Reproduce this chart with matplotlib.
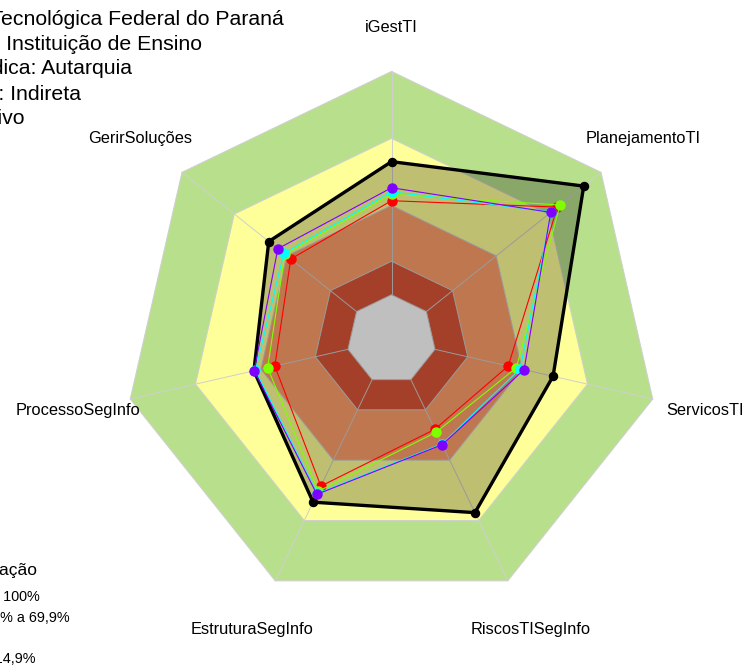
import matplotlib
matplotlib.use('Agg')
import matplotlib.pyplot as plt
import numpy as np

plt.rcParams['font.family'] = ['Liberation Sans', 'DejaVu Sans']

# ---------------- data ----------------
categories = ["iGestTI", "PlanejamentoTI", "ServicosTI", "RiscosTISegInfo",
              "EstruturaSegInfo", "ProcessoSegInfo", "GerirSoluções"]

reference = [59.6, 90.1, 54.2, 66.1, 60.9, 43.2, 50.3]
serie_vermelha = [42.1, 75.0, 33.6, 24.7, 52.9, 33.6, 37.7]
serie_verde = [45.0, 76.5, 37.3, 26.1, 55.5, 36.9, 41.1]
serie_ciano = [46.1, 71.5, 39.1, 32.0, 56.5, 42.5, 41.7]
serie_roxa = [47.9, 71.2, 40.9, 32.3, 57.0, 43.1, 45.1]

band_limits = [0, 15, 40, 70, 100]
scale_min, scale_max = -20, 100

title_lines = ["Universidade Tecnológica Federal do Paraná",
               "Tipo: Instituição de Ensino",
               "Natureza Jurídica: Autarquia",
               "Administração: Indireta",
               "Poder: Executivo"]
legend_title = "Classificação"
legend_lines = ["Aprimorado: 70% a 100%",
                "Intermediário: 40% a 69,9%",
                "Inexpressivo: 0% a 14,9%"]

# ---------------- styles ----------------
band_colors = ['#DC5538', '#FFA06B', '#FFFF99', '#B8E08C']  # 0-15,15-40,40-70,70-100
series = [(serie_vermelha, '#FF0000'), (serie_verde, '#80FF00'),
          (serie_ciano, '#00FFFF'), (serie_roxa, '#8000FF')]

W, H = 744, 668
cx, cy, R = 391.5, 339.4, 268.0

fig = plt.figure(figsize=(W / 100, H / 100), dpi=100)
ax = fig.add_axes([0, 0, 1, 1])
ax.set_xlim(-cx / R, (W - cx) / R)
ax.set_ylim(-(H - cy) / R, cy / R)
ax.axis('off')

n = len(categories)
th = np.deg2rad(90 - np.arange(n) * 360.0 / n)


def rad(v):
    return (np.asarray(v, dtype=float) - scale_min) / (scale_max - scale_min)


def poly(vals):
    r = rad(vals)
    x = r * np.cos(th)
    y = r * np.sin(th)
    return np.append(x, x[0]), np.append(y, y[0])


# bands from outermost to innermost
for lim, col in zip(band_limits[:0:-1], band_colors[::-1]):
    x, y = poly([lim] * n)
    ax.fill(x, y, facecolor=col, edgecolor='#CFCFCF', lw=0.7, zorder=1)
x, y = poly([band_limits[0]] * n)
ax.fill(x, y, facecolor='white', edgecolor='#CFCFCF', lw=0.7, zorder=1)

# spokes
r0 = rad(band_limits[0])
for t in th:
    ax.plot([r0 * np.cos(t), np.cos(t)], [r0 * np.sin(t), np.sin(t)],
            color='#CFCFCF', lw=0.7, zorder=2)

# reference polygon
x, y = poly(reference)
ax.fill(x, y, color='black', alpha=0.25, lw=0, zorder=3)
ax.plot(x, y, color='black', lw=2.4, zorder=4, solid_joinstyle='miter')
ax.plot(x[:-1], y[:-1], 'o', color='black', ms=5.8, zorder=4)

# series
for vals, col in series:
    x, y = poly(vals)
    ax.plot(x, y, color=col, lw=0.8, zorder=5)
    ax.plot(x[:-1], y[:-1], 'o', color=col, ms=6.5, mec=col, zorder=5)

# axis labels
for i, (lab, t) in enumerate(zip(categories, th)):
    f = 1.165 if i == 0 else 1.2
    ax.text(f * np.cos(t), f * np.sin(t), lab, ha='center', va='center',
            fontsize=11.8, color='black', zorder=6)

# title lines (clipped at left edge in the reference)
title_right = [284, 202, 132, 81, 25]
title_base = [25, 50, 74.5, 99.5, 124.5]
for s, xr, yb in zip(title_lines, title_right, title_base):
    fig.text(xr / W, 1 - yb / H, s, ha='right', va='baseline', fontsize=15.3)

# legend (clipped at left edge)
fig.text(37 / W, 1 - 575.5 / H, legend_title, ha='right', va='baseline', fontsize=12.5)
leg_right = [40, 70, 35.5]
leg_base = [601.5, 622.5, 663.3]
for s, xr, yb in zip(legend_lines, leg_right, leg_base):
    fig.text(xr / W, 1 - yb / H, s, ha='right', va='baseline', fontsize=10.4)

fig.savefig('out.png', dpi=100)
